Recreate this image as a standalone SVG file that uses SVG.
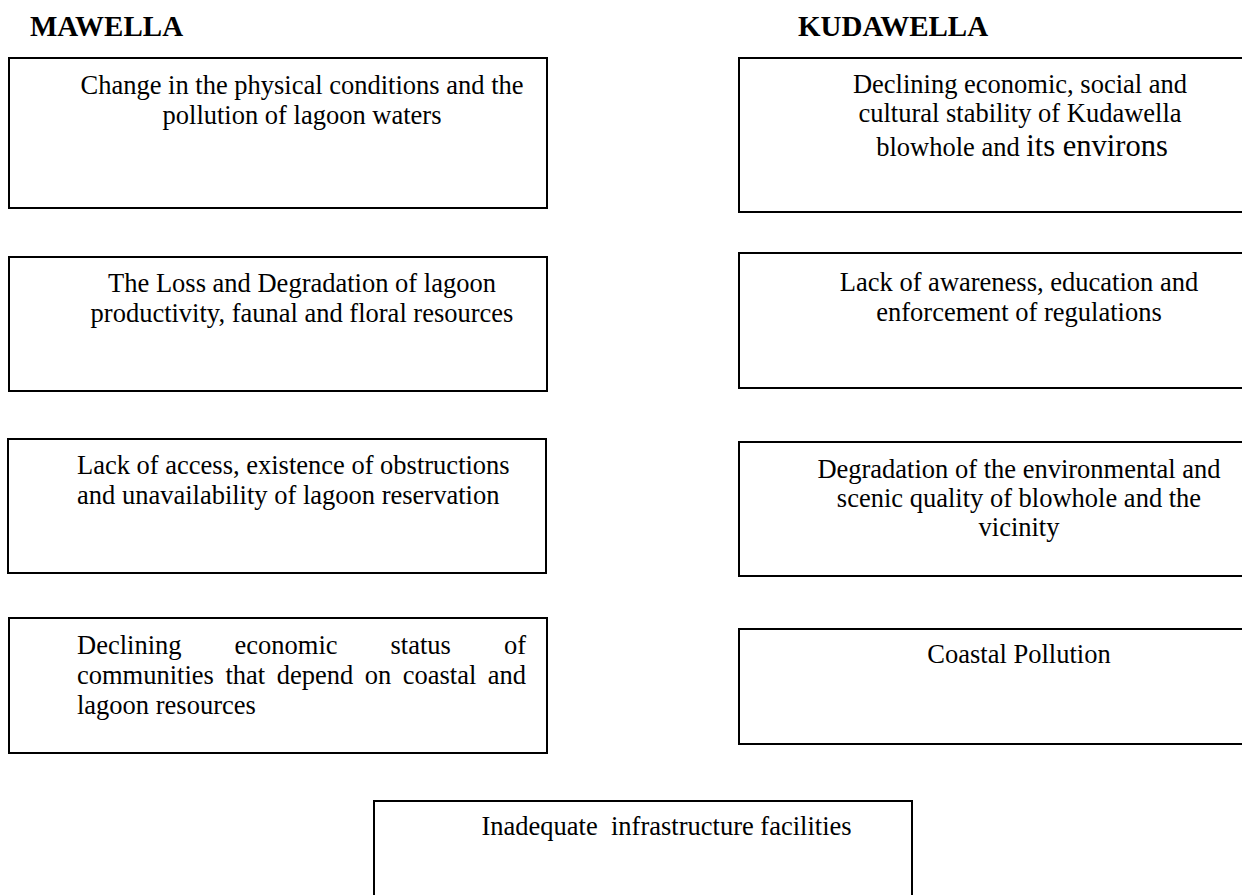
<svg xmlns="http://www.w3.org/2000/svg" width="1242" height="895" viewBox="0 0 1242 895">
  <style>
    .box { fill: #ffffff; stroke: #000000; stroke-width: 2; }
    .t { font-family: "Liberation Serif", "Times New Roman", serif; font-size: 26.5px; fill: #000000; }
    .c { text-anchor: middle; }
    .h { font-family: "Liberation Serif", "Times New Roman", serif; font-size: 29px; font-weight: bold; fill: #000000; }
  </style>
  <rect x="0" y="0" width="1242" height="895" fill="#ffffff"/>

  <g id="headings">
    <text class="h" x="30" y="36">MAWELLA</text>
    <text class="h" x="798" y="36">KUDAWELLA</text>
  </g>

  <g id="connectors"></g>

  <g id="mawella-1">
    <rect class="box" x="9" y="58" width="538" height="150"/>
    <text class="t c" x="302" y="94">Change in the physical conditions and the</text>
    <text class="t c" x="302" y="124">pollution of lagoon waters</text>
  </g>

  <g id="mawella-2">
    <rect class="box" x="9" y="257" width="538" height="134"/>
    <text class="t c" x="302" y="292">The Loss and Degradation of lagoon</text>
    <text class="t c" x="302" y="322">productivity, faunal and floral resources</text>
  </g>

  <g id="mawella-3">
    <rect class="box" x="8" y="439" width="538" height="134"/>
    <text class="t" x="77" y="474">Lack of access, existence of obstructions</text>
    <text class="t" x="77" y="504">and unavailability of lagoon reservation</text>
  </g>

  <g id="mawella-4">
    <rect class="box" x="9" y="618" width="538" height="135"/>
    <text class="t" y="654"><tspan x="77">Declining</tspan><tspan x="234.5">economic</tspan><tspan x="390.5">status</tspan><tspan x="504">of</tspan></text>
    <text class="t" y="684"><tspan x="77">communities</tspan><tspan x="225.4">that</tspan><tspan x="276.7">depend</tspan><tspan x="364.7">on</tspan><tspan x="402.7">coastal</tspan><tspan x="487.8">and</tspan></text>
    <text class="t" x="77" y="714">lagoon resources</text>
  </g>

  <g id="kudawella-1">
    <rect class="box" x="739" y="58" width="540" height="154"/>
    <text class="t c" x="1020" y="93">Declining economic, social and</text>
    <text class="t c" x="1020" y="122">cultural stability of Kudawella</text>
    <text class="t c" x="1022" y="156">blowhole and <tspan font-size="30.5px">its environs</tspan></text>
  </g>

  <g id="kudawella-2">
    <rect class="box" x="739" y="253" width="540" height="135"/>
    <text class="t c" x="1019" y="291">Lack of awareness, education and</text>
    <text class="t c" x="1019" y="321">enforcement of regulations</text>
  </g>

  <g id="kudawella-3">
    <rect class="box" x="739" y="442" width="540" height="134"/>
    <text class="t c" x="1019" y="478">Degradation of the environmental and</text>
    <text class="t c" x="1019" y="507">scenic quality of blowhole and the</text>
    <text class="t c" x="1019" y="536">vicinity</text>
  </g>

  <g id="kudawella-4">
    <rect class="box" x="739" y="629" width="540" height="115"/>
    <text class="t c" x="1019" y="663">Coastal Pollution</text>
  </g>

  <g id="shared">
    <rect class="box" x="374" y="801" width="538" height="120"/>
    <text class="t" x="481.5" y="835" xml:space="preserve">Inadequate  infrastructure facilities</text>
  </g>
</svg>
